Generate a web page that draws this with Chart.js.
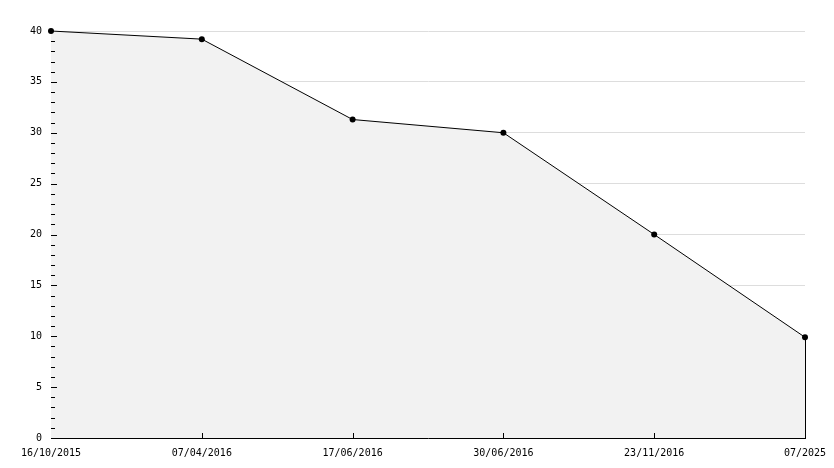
<!DOCTYPE html>
<html>
<head>
<meta charset="utf-8">
<script src="https://cdn.jsdelivr.net/npm/chart.js@4"></script>
<style>
  html, body { margin: 0; padding: 0; background: #fff; }
  #wrap { width: 834px; height: 468px; }
</style>
</head>
<body>
<div id="wrap"><canvas id="chart-line"></canvas></div>
<script>
// data
var dates = ['16/10/2015', '07/04/2016', '17/06/2016', '30/06/2016', '23/11/2016', '07/2025'];
var values = [40, 39.2, 31.3, 30, 20, 9.9];
var yTicks = [0, 5, 10, 15, 20, 25, 30, 35, 40];

// tick marks drawn inside the plot, plus the closing edge of the filled area
var innerTicks = {
    id: 'innerTicks',
    afterDatasetsDraw: function(chart) {
        var ctx = chart.ctx;
        var x = chart.scales.x, y = chart.scales.y;
        var area = chart.chartArea;
        ctx.save();
        ctx.strokeStyle = '#000';
        ctx.lineWidth = 1;
        ctx.beginPath();
        // minor + major ticks on y
        for (var v = 1; v < 40; v++) {
            var py = Math.round(y.getPixelForValue(v)) + 0.5;
            var len = (v % 5 === 0) ? 6 : 4;
            ctx.moveTo(area.left, py);
            ctx.lineTo(area.left + len, py);
        }
        // ticks on x
        for (var i = 1; i < dates.length - 1; i++) {
            var px = Math.round(x.getPixelForValue(i)) + 0.5;
            ctx.moveTo(px, area.bottom);
            ctx.lineTo(px, area.bottom - 5);
        }
        // right edge of the area
        var last = dates.length - 1;
        var lx = Math.round(x.getPixelForValue(last)) + 0.5;
        ctx.moveTo(lx, y.getPixelForValue(values[last]));
        ctx.lineTo(lx, area.bottom);
        ctx.stroke();
        ctx.restore();
    }
};

const ctx = document.getElementById('chart-line').getContext('2d');
const myChart = new Chart(ctx, {
    type: 'line',
    data: {
        labels: dates,
        datasets: [{
            data: values,
            backgroundColor: '#f2f2f2',
            borderColor: '#000',
            borderWidth: 1,
            fill: 'origin',
            clip: false,
            pointRadius: 3,
            pointBackgroundColor: '#000',
            pointBorderColor: '#000',
            pointBorderWidth: 0
        }]
    },
    options: {
        responsive: true,
        maintainAspectRatio: false,
        animation: false,
        elements: {
            line: { tension: 0 }
        },
        layout: {
            padding: { top: 31, right: 0, bottom: 0, left: 0 }
        },
        plugins: {
            legend: { display: false },
            tooltip: { enabled: false }
        },
        scales: {
            x: {
                offset: false,
                afterFit: function(scale) { scale.paddingRight = 29; },
                grid: { display: false, drawTicks: false },
                border: { color: '#000', width: 1 },
                ticks: {
                    color: '#000',
                    padding: 9,
                    maxRotation: 0,
                    autoSkip: false,
                    font: { family: 'DejaVu Sans Mono', size: 10 }
                }
            },
            y: {
                min: 0,
                max: 40,
                afterFit: function(scale) { scale.width = 51; },
                afterBuildTicks: function(scale) {
                    scale.ticks = yTicks.map(function(v) { return { value: v }; });
                },
                grid: { color: '#dddddd', drawTicks: false },
                border: { color: '#000', width: 1 },
                ticks: {
                    color: '#000',
                    padding: 9,
                    font: { family: 'DejaVu Sans Mono', size: 10 }
                }
            }
        }
    },
    plugins: [innerTicks]
});
</script>
</body>
</html>
